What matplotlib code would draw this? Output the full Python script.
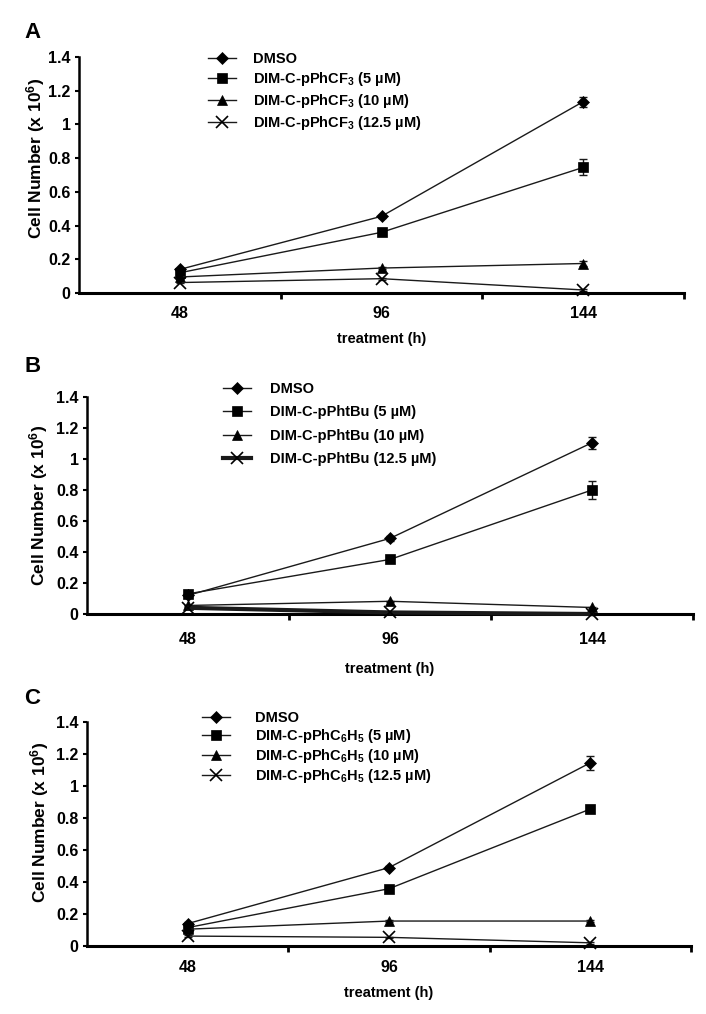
import matplotlib
matplotlib.use("Agg")
import matplotlib.pyplot as plt
from matplotlib.ticker import FixedLocator, FuncFormatter

plt.rcParams['font.family'] = ['Liberation Sans', 'DejaVu Sans']
plt.rcParams['font.weight'] = 'bold'
plt.rcParams['mathtext.fontset'] = 'custom'
plt.rcParams['mathtext.rm'] = 'Liberation Sans:bold'
plt.rcParams['mathtext.it'] = 'Liberation Sans:bold'
plt.rcParams['mathtext.bf'] = 'Liberation Sans:bold'

# ---- data ----
hours = ["48", "96", "144"]
y_ticks = [0, 0.2, 0.4, 0.6, 0.8, 1.0, 1.2, 1.4]

labels_A = ["DMSO", "DIM-C-pPhCF$_3$ (5 µM)", "DIM-C-pPhCF$_3$ (10 µM)", "DIM-C-pPhCF$_3$ (12.5 µM)"]
labels_B = ["DMSO", "DIM-C-pPhtBu (5 µM)", "DIM-C-pPhtBu (10 µM)", "DIM-C-pPhtBu (12.5 µM)"]
labels_C = ["DMSO", "DIM-C-pPhC$_6$H$_5$ (5 µM)", "DIM-C-pPhC$_6$H$_5$ (10 µM)", "DIM-C-pPhC$_6$H$_5$ (12.5 µM)"]

A_dmso = [0.14, 0.455, 1.135]
A_5 = [0.12, 0.36, 0.745]
A_10 = [0.095, 0.148, 0.175]
A_125 = [0.062, 0.085, 0.018]
A_err_dmso = [0.01, 0.01, 0.03]
A_err_5 = [0.01, 0.01, 0.047]
A_err_10 = [0.005, 0.005, 0.015]
A_err_125 = [0.005, 0.005, 0.005]

B_dmso = [0.12, 0.488, 1.105]
B_5 = [0.13, 0.352, 0.80]
B_10 = [0.055, 0.082, 0.042]
B_125 = [0.04, 0.01, 0.0]
B_err_dmso = [0.01, 0.015, 0.04]
B_err_5 = [0.01, 0.01, 0.055]
B_err_10 = [0.005, 0.005, 0.005]
B_err_125 = [0.005, 0.005, 0.005]

C_dmso = [0.14, 0.49, 1.145]
C_5 = [0.115, 0.358, 0.856]
C_10 = [0.105, 0.156, 0.156]
C_125 = [0.062, 0.054, 0.02]
C_err_dmso = [0.01, 0.01, 0.045]
C_err_5 = [0.01, 0.01, 0.015]
C_err_10 = [0.005, 0.005, 0.005]
C_err_125 = [0.005, 0.005, 0.005]

W, H = 706, 1014
fig = plt.figure(figsize=(W / 100, H / 100), dpi=100)
INK = '#1a1a1a'


def fx(px):
    return px / W


def fy(py):
    return 1 - py / H


def make_panel(rect_px, letter, letter_xy, series, errs, labels, marker_sizes, lws,
               leg_xy, leg_spacing, textpad, ylabel_xy, xpad, xlabelpad):
    l, t, r, b = rect_px
    ax = fig.add_axes([fx(l), fy(b), fx(r - l), (b - t) / H])
    x = list(range(len(hours)))
    markers = ['D', 's', '^', 'x']
    handles = []
    for i, (vals, err) in enumerate(zip(series, errs)):
        ax.errorbar(x, vals, yerr=err, fmt='none', ecolor=INK, elinewidth=1.0,
                    capsize=3, capthick=1.0, clip_on=False, zorder=2)
        h, = ax.plot(x, vals, color=INK, marker=markers[i], markersize=marker_sizes[i],
                     markeredgewidth=1.2 if markers[i] == 'x' else 0.5, mfc='black', mec='black',
                     lw=lws[i], clip_on=False, label=labels[i], zorder=3)
        handles.append(h)
    ax.set_xlim(-0.5, 2.5)
    ax.set_ylim(0, 1.4)
    ax.xaxis.set_major_locator(FixedLocator(x))
    ax.set_xticklabels(hours)
    ax.xaxis.set_minor_locator(FixedLocator([0.5, 1.5, 2.5]))
    ax.tick_params(axis='x', which='major', length=0, pad=xpad, labelsize=11.5)
    ax.tick_params(axis='x', which='minor', length=4, width=2, direction='out')
    ax.yaxis.set_major_locator(FixedLocator(y_ticks))
    ax.yaxis.set_major_formatter(FuncFormatter(lambda v, p: ('%g' % round(v, 1))))
    ax.tick_params(axis='y', which='major', length=3, width=1.5, pad=3, labelsize=11.5)
    for s in ['top', 'right']:
        ax.spines[s].set_visible(False)
    ax.spines['left'].set_linewidth(1.8)
    ax.spines['bottom'].set_linewidth(2.2)
    ax.set_xlabel('treatment (h)', fontsize=10.5, fontweight='bold', labelpad=xlabelpad)
    ax.set_ylabel('Cell Number (x 10$^6$)', fontsize=12.5, fontweight='bold')
    ax.yaxis.set_label_coords(*ylabel_xy)
    fig.text(fx(letter_xy[0]), fy(letter_xy[1]), letter, fontsize=16, fontweight='bold',
             ha='left', va='center')
    fig.legend(handles=handles, labels=labels, loc='upper left',
               bbox_to_anchor=(fx(leg_xy[0]), fy(leg_xy[1])), frameon=False,
               fontsize=10.5, handlelength=1.9, handletextpad=textpad,
               labelspacing=leg_spacing, borderpad=0, borderaxespad=0)
    return ax


make_panel((79, 57, 684, 293), 'A', (24, 32),
           [A_dmso, A_5, A_10, A_125], [A_err_dmso, A_err_5, A_err_10, A_err_125],
           labels_A, [6, 7.5, 7.5, 8], [1.0, 1.0, 1.0, 1.0],
           (208, 52), 0.28, 1.2, (-0.053, 0.57), 9, 8)

make_panel((87, 397, 693, 614), 'B', (24, 367),
           [B_dmso, B_5, B_10, B_125], [B_err_dmso, B_err_5, B_err_10, B_err_125],
           labels_B, [6.5, 7.5, 7.5, 8.5], [1.0, 1.0, 1.0, 3.0],
           (223, 382), 0.65, 1.3, (-0.061, 0.5), 13, 11)

make_panel((87, 722, 691, 946), 'C', (24, 698),
           [C_dmso, C_5, C_10, C_125], [C_err_dmso, C_err_5, C_err_10, C_err_125],
           labels_C, [6, 7.5, 7.5, 8], [1.0, 1.0, 1.0, 1.0],
           (202, 711), 0.13, 1.75, (-0.059, 0.55), 10, 8)

fig.savefig('out.png', dpi=100)
